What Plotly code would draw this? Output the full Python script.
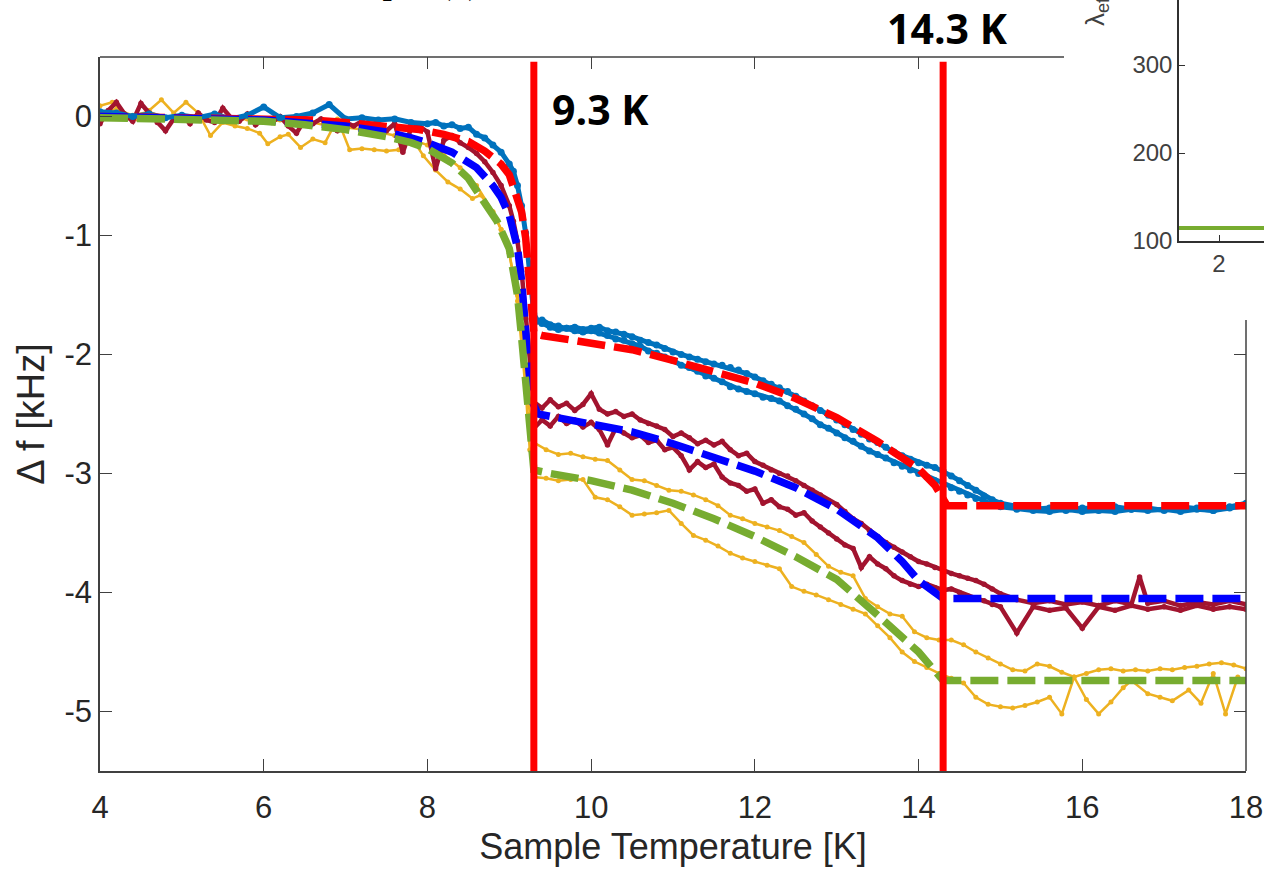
import plotly.graph_objects as go

# ---------------- data ----------------
# blue measured data, warming branch
T_blue_up = [4.0,4.2,4.4,4.6,4.8,5.0,5.2,5.4,5.6,5.8,6.0,6.2,6.4,6.6,6.8,7.0,7.2,7.4,7.6,7.8,
             8.0,8.1,8.2,8.3,8.4,8.5,8.6,8.7,8.8,8.9,9.0,9.05,9.1,9.15,9.2,9.25,9.3,9.35,9.4,9.5,
             9.6,9.7,9.8,9.9,10.0,10.1,10.2,10.3,10.4,10.5,10.6,10.7,10.8,10.9,11.0,11.1,11.2,11.3,11.4,11.5,
             11.6,11.7,11.8,11.9,12.0,12.1,12.2,12.3,12.4,12.5,12.6,12.7,12.8,12.9,13.0,13.1,13.2,13.3,13.4,13.5,
             13.6,13.7,13.8,13.9,14.0,14.1,14.2,14.3,14.4,14.5,14.6,14.7,14.8,14.9,15.0,15.2,15.4,15.6,15.8,16.0,
             16.2,16.4,16.6,16.8,17.0,17.2,17.4,17.6,17.8,18.0]
df_blue_up = [0.04,0.03,0.00,0.02,-0.01,0.01,-0.01,0.02,-0.02,0.01,0.08,-0.01,0.00,0.03,0.10,-0.02,-0.01,-0.03,-0.02,-0.05,
              -0.06,-0.05,-0.08,-0.07,-0.10,-0.09,-0.15,-0.18,-0.24,-0.30,-0.40,-0.46,-0.58,-0.75,-0.98,-1.30,-1.66,-1.72,-1.71,-1.75,
              -1.76,-1.78,-1.77,-1.79,-1.78,-1.77,-1.80,-1.81,-1.83,-1.85,-1.88,-1.90,-1.92,-1.95,-1.98,-2.00,-2.02,-2.04,-2.06,-2.08,
              -2.09,-2.11,-2.13,-2.16,-2.19,-2.22,-2.25,-2.28,-2.31,-2.35,-2.39,-2.43,-2.47,-2.51,-2.55,-2.59,-2.63,-2.67,-2.71,-2.74,
              -2.78,-2.82,-2.85,-2.88,-2.91,-2.93,-2.95,-2.98,-3.02,-3.06,-3.10,-3.14,-3.19,-3.22,-3.25,-3.28,-3.30,-3.29,-3.31,-3.29,
              -3.30,-3.28,-3.30,-3.29,-3.31,-3.28,-3.29,-3.31,-3.28,-3.25]
# blue measured data, cooling branch
T_blue_dn = [9.3,9.4,9.5,9.6,9.7,9.8,9.9,10.0,10.1,10.2,10.3,10.4,10.5,10.6,10.7,10.8,10.9,11.0,11.1,11.2,
             11.3,11.4,11.5,11.6,11.7,11.8,11.9,12.0,12.1,12.2,12.3,12.4,12.5,12.6,12.7,12.8,12.9,13.0,13.1,13.2,
             13.3,13.4,13.5,13.6,13.7,13.8,13.9,14.0,14.1,14.2,14.3,14.4,14.5,14.6,14.7,14.8,14.9,15.0,15.2,15.4,
             15.6,15.8,16.0,16.2,16.4,16.6,16.8,17.0,17.2,17.4,17.6,17.8,18.0]
df_blue_dn = [-1.70,-1.74,-1.77,-1.79,-1.78,-1.80,-1.81,-1.80,-1.82,-1.84,-1.87,-1.88,-1.91,-1.93,-1.97,-1.99,-2.02,-2.05,-2.09,-2.11,
              -2.14,-2.18,-2.20,-2.23,-2.27,-2.29,-2.31,-2.33,-2.36,-2.37,-2.39,-2.43,-2.46,-2.50,-2.54,-2.59,-2.62,-2.66,-2.70,-2.73,
              -2.77,-2.81,-2.84,-2.87,-2.91,-2.94,-2.97,-3.00,-3.03,-3.06,-3.09,-3.12,-3.15,-3.18,-3.21,-3.24,-3.26,-3.28,-3.30,-3.31,
              -3.32,-3.30,-3.32,-3.31,-3.32,-3.30,-3.31,-3.30,-3.32,-3.30,-3.31,-3.29,-3.27]

# dark red measured data
T_red_low = [4.0,4.1,4.2,4.3,4.4,4.5,4.6,4.7,4.8,4.9,5.0,5.1,5.2,5.3,5.4,5.5,5.6,5.7,5.8,5.9,
             6.0,6.1,6.2,6.3,6.4,6.5,6.6,6.7,6.8,6.9,7.0,7.1,7.2,7.3,7.4,7.5,7.6,7.7,7.8,7.9,
             8.0,8.1,8.2,8.3,8.4,8.5,8.6,8.7,8.8,8.9,9.0,9.05,9.1,9.15,9.2,9.25]
df_red_low = [-0.06,0.05,0.12,0.02,-0.04,0.11,0.03,-0.05,-0.12,-0.02,0.01,-0.06,0.03,-0.03,-0.05,0.07,-0.01,-0.04,0.02,-0.07,
              -0.02,-0.05,0.00,-0.08,-0.14,-0.03,-0.06,-0.02,-0.09,-0.12,-0.05,-0.08,-0.04,-0.10,-0.07,-0.12,-0.06,-0.30,-0.10,-0.08,
              -0.13,-0.44,-0.20,-0.16,-0.22,-0.26,-0.31,-0.38,-0.47,-0.58,-0.75,-0.88,-1.05,-1.30,-1.70,-2.10]
T_red_up = [9.3,9.4,9.5,9.6,9.7,9.8,9.9,10.0,10.1,10.2,10.3,10.4,10.5,10.6,10.7,10.8,10.9,11.0,11.1,11.2,
            11.3,11.4,11.5,11.6,11.7,11.8,11.9,12.0,12.1,12.2,12.3,12.4,12.5,12.6,12.7,12.8,12.9,13.0,13.1,13.2,
            13.3,13.4,13.5,13.6,13.7,13.8,13.9,14.0,14.1,14.2,14.3,14.4,14.5,14.6,14.7,14.8,14.9,15.0,15.2,15.4,
            15.6,15.8,16.0,16.2,16.4,16.6,16.7,16.8,17.0,17.2,17.4,17.6,17.8,18.0]
df_red_up = [-2.40,-2.45,-2.38,-2.44,-2.41,-2.47,-2.42,-2.33,-2.46,-2.50,-2.48,-2.52,-2.50,-2.55,-2.58,-2.60,-2.63,-2.69,-2.66,-2.70,
             -2.75,-2.72,-2.76,-2.73,-2.80,-2.85,-2.83,-2.90,-2.93,-2.97,-3.00,-3.02,-3.06,-3.10,-3.14,-3.18,-3.23,-3.26,-3.32,-3.38,
             -3.42,-3.48,-3.53,-3.58,-3.62,-3.66,-3.70,-3.74,-3.76,-3.79,-3.81,-3.84,-3.86,-3.88,-3.90,-3.93,-3.97,-4.01,-4.06,-4.09,
             -4.07,-4.10,-4.08,-4.11,-4.07,-4.10,-3.87,-4.09,-4.07,-4.11,-4.08,-4.10,-4.07,-4.10]
T_red_dn = [9.3,9.4,9.5,9.6,9.7,9.8,9.9,10.0,10.1,10.2,10.3,10.4,10.5,10.6,10.7,10.8,10.9,11.0,11.1,11.2,
            11.3,11.4,11.5,11.6,11.7,11.8,11.9,12.0,12.1,12.2,12.3,12.4,12.5,12.6,12.7,12.8,12.9,13.0,13.1,13.2,
            13.3,13.4,13.5,13.6,13.7,13.8,13.9,14.0,14.1,14.2,14.3,14.4,14.5,14.6,14.7,14.8,14.9,15.0,15.2,15.4,
            15.6,15.8,16.0,16.2,16.4,16.6,16.8,17.0,17.2,17.4,17.6,17.8,18.0]
df_red_dn = [-2.62,-2.55,-2.60,-2.52,-2.58,-2.55,-2.61,-2.57,-2.63,-2.76,-2.62,-2.66,-2.70,-2.68,-2.74,-2.72,-2.80,-2.78,-2.85,-2.97,
             -2.90,-2.95,-2.92,-3.03,-3.08,-3.10,-3.15,-3.13,-3.25,-3.22,-3.28,-3.30,-3.35,-3.33,-3.40,-3.45,-3.50,-3.55,-3.60,-3.63,
             -3.79,-3.70,-3.76,-3.80,-3.86,-3.90,-3.93,-3.95,-3.93,-3.96,-3.98,-3.97,-4.00,-4.03,-4.05,-4.07,-4.10,-4.12,-4.34,-4.12,
             -4.15,-4.13,-4.30,-4.12,-4.15,-4.11,-4.14,-4.12,-4.15,-4.11,-4.14,-4.12,-4.14]

# yellow measured data
T_yel_a = [4.0,4.15,4.3,4.45,4.6,4.75,4.9,5.05,5.2,5.35,5.5,5.65,5.8,5.95,6.05,6.2,6.3,6.45,6.6,6.75,
           6.9,7.05,7.2,7.35,7.5,7.65,7.8,7.95,8.1,8.25,8.4,8.55,8.65,8.8,8.9,9.0,9.1,9.2,9.25,
           9.3,9.45,9.6,9.75,9.9,10.05,10.2,10.35,10.5,10.65,10.8,10.95,11.1,11.25,11.4,11.55,11.7,11.85,12.0,12.15,
           12.3,12.45,12.6,12.75,12.9,13.05,13.2,13.35,13.5,13.65,13.8,13.95,14.1,14.25,14.4,14.55,14.7,14.85,15.0,15.15,
           15.3,15.45,15.6,15.75,15.9,16.05,16.2,16.35,16.5,16.65,16.8,16.95,17.1,17.25,17.4,17.55,17.7,17.85,18.0]
df_yel_a = [0.09,0.12,0.02,-0.02,0.05,0.14,0.03,0.12,0.03,-0.16,-0.05,-0.08,-0.10,-0.14,-0.23,-0.17,-0.15,-0.26,-0.19,-0.22,
            -0.02,-0.28,-0.27,-0.28,-0.29,-0.28,-0.17,-0.33,-0.45,-0.55,-0.61,-0.69,-0.66,-0.80,-0.95,-1.15,-1.50,-2.10,-2.50,
            -2.74,-2.80,-2.84,-2.83,-2.86,-2.88,-2.89,-2.97,-3.05,-3.06,-3.10,-3.14,-3.15,-3.18,-3.22,-3.27,-3.35,-3.38,-3.42,-3.45,
            -3.48,-3.53,-3.58,-3.68,-3.78,-3.83,-3.86,-4.05,-4.12,-4.18,-4.20,-4.33,-4.38,-4.40,-4.40,-4.44,-4.50,-4.55,-4.60,-4.65,
            -4.66,-4.60,-4.62,-4.67,-4.71,-4.68,-4.65,-4.64,-4.66,-4.65,-4.66,-4.64,-4.65,-4.63,-4.62,-4.60,-4.59,-4.61,-4.64]
T_yel_b = [4.0,4.2,4.4,4.6,4.8,5.0,5.2,5.4,5.6,5.8,6.0,6.2,6.4,6.6,6.8,7.0,7.2,7.4,7.6,7.8,
           8.0,8.2,8.4,8.6,8.8,8.9,9.0,9.1,9.2,9.25,
           9.3,9.45,9.6,9.75,9.9,10.05,10.2,10.35,10.5,10.65,10.8,10.95,11.1,11.25,11.4,11.55,11.7,11.85,12.0,12.15,
           12.3,12.45,12.6,12.75,12.9,13.05,13.2,13.35,13.5,13.65,13.8,13.95,14.1,14.25,14.4,14.55,14.7,14.85,15.0,15.15,
           15.3,15.45,15.6,15.75,15.9,16.05,16.2,16.35,16.5,16.6,16.8,16.95,17.1,17.3,17.45,17.6,17.75,17.9,18.0]
df_yel_b = [0.03,0.06,0.01,0.04,-0.01,0.00,-0.03,-0.01,-0.04,-0.02,-0.05,-0.03,-0.06,-0.05,-0.08,-0.09,-0.11,-0.13,-0.16,-0.19,
            -0.24,-0.32,-0.43,-0.58,-0.80,-0.95,-1.15,-1.55,-2.30,-2.80,
            -3.03,-3.04,-3.06,-3.05,-3.05,-3.20,-3.22,-3.28,-3.35,-3.34,-3.33,-3.31,-3.42,-3.52,-3.56,-3.61,-3.67,-3.71,-3.74,-3.77,
            -3.80,-3.95,-3.99,-4.02,-4.06,-4.10,-4.14,-4.18,-4.28,-4.38,-4.50,-4.58,-4.63,-4.68,-4.72,-4.76,-4.88,-4.94,-4.96,-4.97,
            -4.95,-4.92,-4.88,-5.02,-4.71,-4.90,-5.02,-4.92,-4.80,-4.74,-4.85,-4.88,-4.91,-4.82,-4.93,-4.68,-5.02,-4.71,-4.74]

# model fits
T_fit_red = [4.0,5.0,6.0,6.6,7.0,7.5,7.9,8.2,8.5,8.7,8.9,9.0,9.1,9.15,9.2,9.25,9.28,9.3,9.4,9.6,
             10.0,10.5,11.0,11.5,12.0,12.5,13.0,13.5,14.0,14.2,14.3,14.35,15.0,16.0,17.0,18.0]
df_fit_red = [0.0,-0.01,-0.02,-0.03,-0.05,-0.08,-0.11,-0.15,-0.21,-0.29,-0.40,-0.49,-0.67,-0.80,-1.02,-1.35,-1.65,-1.82,-1.84,-1.86,
              -1.90,-1.96,-2.05,-2.14,-2.24,-2.37,-2.53,-2.73,-2.96,-3.10,-3.22,-3.27,-3.27,-3.27,-3.27,-3.27]
T_fit_blue = [4.0,5.0,6.0,7.0,7.5,7.8,8.0,8.3,8.6,8.8,8.9,9.0,9.1,9.15,9.2,9.23,9.27,9.35,9.5,10.0,
              10.5,11.0,11.5,12.0,12.5,13.0,13.5,13.8,14.0,14.2,14.3,15.0,16.0,17.0,18.0]
df_fit_blue = [0.0,-0.01,-0.03,-0.08,-0.13,-0.18,-0.22,-0.30,-0.43,-0.58,-0.68,-0.83,-1.10,-1.38,-1.75,-2.10,-2.38,-2.50,-2.52,-2.58,
               -2.65,-2.75,-2.86,-2.98,-3.12,-3.30,-3.54,-3.74,-3.90,-4.01,-4.05,-4.05,-4.05,-4.05,-4.05]
T_fit_green = [4.0,5.0,6.0,6.5,7.0,7.5,7.8,8.0,8.3,8.5,8.7,8.85,9.0,9.1,9.15,9.2,9.23,9.26,9.3,9.5,
               10.0,10.5,11.0,11.5,12.0,12.5,13.0,13.5,13.8,14.0,14.2,14.3,15.0,16.0,17.0,18.0]
df_fit_green = [-0.01,-0.02,-0.04,-0.07,-0.11,-0.17,-0.22,-0.27,-0.39,-0.52,-0.72,-0.88,-1.11,-1.50,-1.85,-2.25,-2.55,-2.82,-2.97,-3.00,
                -3.06,-3.14,-3.25,-3.38,-3.53,-3.70,-3.89,-4.19,-4.37,-4.50,-4.66,-4.74,-4.74,-4.74,-4.74,-4.74]

# transition temperatures
T_c = [9.3, 14.3]
T_c_labels = ["9.3 K", "14.3 K"]
vline_y = [0.46, -5.5]

# inset (partially visible)
inset_T = [1.5, 2.5625]
inset_lambda = [114.8, 114.8]

x_ticks = [4, 6, 8, 10, 12, 14, 16, 18]
y_ticks = [0, -1, -2, -3, -4, -5]
x_top_ticks = [6, 8, 10, 12, 14]
y_right_ticks = [-2, -3, -4, -5]
inset_y_ticks = [100, 200, 300]
inset_x_ticks = [2]

# ---------------- figure ----------------
C_BLUE = "#0072BD"
C_DRED = "#A2142F"
C_YEL = "#EDB120"
AX = "#404040"
TXT = "#262626"
FONT = "Liberation Sans"

fig = go.Figure()

def data_trace(x, y, color, lw, ms):
    return go.Scatter(x=x, y=y, mode="lines+markers",
                      line=dict(color=color, width=lw),
                      marker=dict(color=color, size=ms),
                      showlegend=False, hoverinfo="skip")

fig.add_trace(data_trace(T_yel_a, df_yel_a, C_YEL, 2.5, 5))
fig.add_trace(data_trace(T_yel_b, df_yel_b, C_YEL, 2.5, 5))
fig.add_trace(data_trace(T_red_low + T_red_up, df_red_low + df_red_up, C_DRED, 4.5, 5.5))
fig.add_trace(data_trace(T_red_dn, df_red_dn, C_DRED, 4.5, 5.5))
fig.add_trace(data_trace(T_blue_up, df_blue_up, C_BLUE, 5, 7))
fig.add_trace(data_trace(T_blue_dn, df_blue_dn, C_BLUE, 5, 7))

for x, y, c in [(T_fit_red, df_fit_red, "#FF0000"),
                (T_fit_blue, df_fit_blue, "#0000FF"),
                (T_fit_green, df_fit_green, "#77AC30")]:
    fig.add_trace(go.Scatter(x=x, y=y, mode="lines",
                             line=dict(color=c, width=7.5, dash="28px,9px"),
                             showlegend=False, hoverinfo="skip"))

for t in T_c:
    fig.add_trace(go.Scatter(x=[t, t], y=vline_y, mode="lines",
                             line=dict(color="#FF0000", width=7),
                             showlegend=False, hoverinfo="skip"))

# dummy traces to activate mirror-tick axes
fig.add_trace(go.Scatter(x=[None], y=[None], xaxis="x3", yaxis="y",
                         showlegend=False, hoverinfo="skip"))
fig.add_trace(go.Scatter(x=[None], y=[None], xaxis="x", yaxis="y3",
                         showlegend=False, hoverinfo="skip"))

# inset
fig.add_trace(go.Scatter(x=inset_T, y=inset_lambda, mode="lines", xaxis="x2", yaxis="y2",
                         line=dict(color="#77AC30", width=4),
                         showlegend=False, hoverinfo="skip"))

main_x_dom = [0, 1146 / 1164]
main_y_dom = [0, 714 / 771]

axis_common = dict(showgrid=False, zeroline=False, ticks="inside", ticklen=12,
                   tickwidth=1.3, tickcolor=AX, linecolor=AX, linewidth=1.5, automargin=False)

fig.update_layout(
    width=1264, height=878,
    margin=dict(l=100, r=0, t=0, b=107, autoexpand=False),
    paper_bgcolor="white", plot_bgcolor="white",
    font=dict(family=FONT, color=TXT),
    xaxis=dict(domain=main_x_dom, range=[4, 18], tickvals=x_ticks, ticktext=[str(v) for v in x_ticks],
               showline=True, mirror=False, ticklabelstandoff=8,
               tickfont=dict(size=31, color=TXT), anchor="y",
               title=dict(text="Sample Temperature [K]", font=dict(size=36, color=TXT), standoff=10),
               **axis_common),
    yaxis=dict(domain=main_y_dom, range=[-5.5, 0.5], tickvals=y_ticks, ticktext=[str(v) for v in y_ticks],
               showline=True, mirror=False,
               tickfont=dict(size=31, color=TXT), anchor="x",
               title=dict(text="Δ f [kHz]", font=dict(size=38, color=TXT), standoff=8),
               **axis_common),
    xaxis3=dict(overlaying="x", side="top", anchor="y", range=[4, 18], tickvals=x_top_ticks,
                showticklabels=False, showline=False, **axis_common),
    yaxis3=dict(overlaying="y", side="right", anchor="x", range=[-5.5, 0.5], tickvals=y_right_ticks,
                showticklabels=False, showline=False, **axis_common),
    xaxis2=dict(domain=[(1179 - 100) / 1164, 1.0], anchor="y2", range=[1.5, 2.5625],
                tickvals=inset_x_ticks, showgrid=False, zeroline=False, showline=True, automargin=False,
                linecolor="#303030", linewidth=1.5, ticks="inside", ticklen=6, tickcolor="#303030",
                tickfont=dict(size=24, color="#404040")),
    yaxis2=dict(domain=[(771 - 241) / 771, 1.0], anchor="x2", range=[100, 373.9],
                tickvals=inset_y_ticks, showgrid=False, zeroline=False, showline=True, automargin=False,
                linecolor="#303030", linewidth=1.5, ticks="inside", ticklen=6, tickcolor="#303030",
                tickfont=dict(size=24, color="#404040")),
    shapes=[
        dict(type="line", xref="paper", yref="paper", x0=0, x1=(1064 - 100) / 1164,
             y0=main_y_dom[1], y1=main_y_dom[1], line=dict(color=AX, width=1.5)),
        dict(type="line", xref="paper", yref="paper", x0=main_x_dom[1], x1=main_x_dom[1],
             y0=0, y1=(771 - 320) / 771, line=dict(color=AX, width=1.5)),
    ],
    annotations=[
        dict(x=10.12, y=0.067, xref="x", yref="y", text=f"<b>{T_c_labels[0]}</b>", showarrow=False,
             font=dict(family="Open Sans", size=41, color="black"), xanchor="center", yanchor="middle"),
        dict(x=14.35, y=(771 - 28) / 771, xref="x", yref="paper", text=f"<b>{T_c_labels[1]}</b>",
             showarrow=False, font=dict(family="Open Sans", size=41, color="black"),
             xanchor="center", yanchor="middle"),
        dict(x=(1097 - 100) / 1164, y=(771 - 28) / 771, xref="paper", yref="paper",
             text="λ<sub>eff</sub> (nm)", textangle=-90, showarrow=False,
             font=dict(family=FONT, size=26, color="#404040"), xanchor="center", yanchor="bottom"),
        dict(x=(313 - 100) / 1164, y=(771 - 4) / 771, xref="paper", yref="paper",
             text="Sample (a)", showarrow=False,
             font=dict(family="Liberation Serif", size=38, color="black"), xanchor="left", yanchor="bottom"),
    ],
)

fig.write_html("out.html", config={"displayModeBar": False},
               post_script="document.body.style.margin='0';")
